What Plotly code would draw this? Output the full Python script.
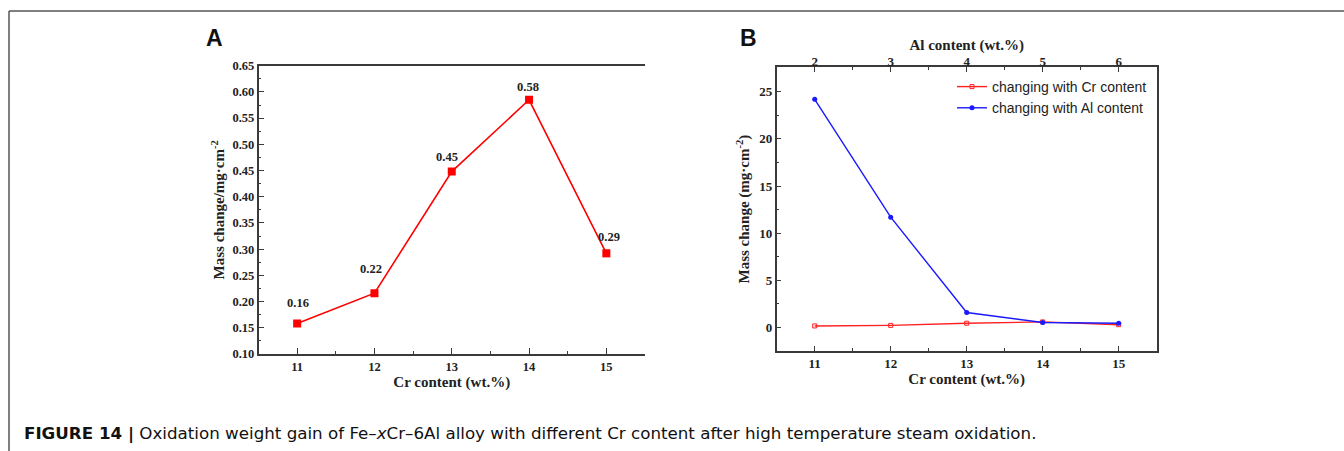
import plotly.graph_objects as go

# ---- data ----
cr_content = [11, 12, 13, 14, 15]
mass_change_cr = [0.158, 0.216, 0.448, 0.585, 0.292]
mass_labels = ["0.16", "0.22", "0.45", "0.58", "0.29"]
al_content = [2, 3, 4, 5, 6]
mass_change_al = [24.2, 11.7, 1.58, 0.52, 0.45]
a_yticks = [0.10, 0.15, 0.20, 0.25, 0.30, 0.35, 0.40, 0.45, 0.50, 0.55, 0.60, 0.65]
b_yticks = [0, 5, 10, 15, 20, 25]

# label offsets (style)
label_dx = [1, -3, -5, -1, 3]
label_dy = [21, 24, 15, 13, 16]

W, H = 1344, 451
def px(x):
    return x / W
def py(y):
    return 1 - y / H

SERIF = "Liberation Serif"
SANS = "Liberation Sans"
AXC = "#3a3a3a"

fig = go.Figure()

# Panel A
fig.add_trace(go.Scatter(
    x=cr_content, y=mass_change_cr, mode="lines+markers",
    line=dict(color="#ff0000", width=1.6),
    marker=dict(symbol="square", size=8, color="#ff0000"),
    xaxis="x", yaxis="y", showlegend=False))

for xv, yv, lab, dx, dy in zip(cr_content, mass_change_cr, mass_labels, label_dx, label_dy):
    fig.add_annotation(x=xv, y=yv, xref="x", yref="y", text="<b>%s</b>" % lab,
                       showarrow=False, xshift=dx, yshift=dy,
                       xanchor="center", yanchor="middle",
                       font=dict(family=SERIF, size=12.5, color="#222"))

# Panel B
fig.add_trace(go.Scatter(
    x=cr_content, y=mass_change_cr, mode="lines+markers",
    name="changing with Cr content",
    line=dict(color="#ff2020", width=1.4),
    marker=dict(symbol="square-open", size=4, color="#ff2020", line=dict(width=1)),
    xaxis="x2", yaxis="y2"))
fig.add_trace(go.Scatter(
    x=al_content, y=mass_change_al, mode="lines+markers",
    name="changing with Al content",
    line=dict(color="#1a1aff", width=1.4),
    marker=dict(symbol="circle", size=5, color="#1a1aff"),
    xaxis="x3", yaxis="y2"))

tickA = dict(family=SERIF, size=12.5, color="#222")
tickB = dict(family=SERIF, size=13, color="#222")
titlefont = dict(family=SERIF, size=15, color="#222")

fig.update_layout(
    width=W, height=H,
    margin=dict(l=0, r=0, t=0, b=0, autoexpand=False),
    paper_bgcolor="white", plot_bgcolor="white",
    xaxis=dict(domain=[px(258.5), px(645)], anchor="y", range=[10.5, 15.5], automargin=False,
               tickvals=cr_content, ticktext=["<b>%d</b>" % v for v in cr_content],
               ticks="inside", ticklen=6, tickwidth=1, tickcolor=AXC,
               minor=dict(ticks="inside", ticklen=3, tickcolor=AXC, dtick=0.5, tick0=10.5),
               showline=True, linecolor=AXC, linewidth=1.5, mirror=True,
               showgrid=False, zeroline=False, tickfont=tickA,
               title=dict(text="<b>Cr content (wt.%)</b>", font=titlefont, standoff=4)),
    yaxis=dict(domain=[py(354), py(65.7)], anchor="x", range=[0.10, 0.65], automargin=False,
               tickvals=a_yticks, ticktext=["<b>%.2f</b>" % v for v in a_yticks],
               ticks="inside", ticklen=6, tickwidth=1, tickcolor=AXC,
               minor=dict(ticks="inside", ticklen=3, tickcolor=AXC, dtick=0.025, tick0=0.1),
               showline=True, linecolor=AXC, linewidth=1.5,
               showgrid=False, zeroline=False, tickfont=tickA,
               title=dict(text="<b>Mass change/mg·cm<sup>-2</sup></b>", font=titlefont, standoff=4)),
    xaxis2=dict(domain=[px(776.7), px(1156.7)], anchor="y2", range=[10.5, 15.5], automargin=False,
                tickvals=cr_content, ticktext=["<b>%d</b>" % v for v in cr_content],
                ticks="inside", ticklen=5, tickwidth=1, tickcolor=AXC,
                minor=dict(ticks="inside", ticklen=3, tickcolor=AXC, dtick=0.5, tick0=10.5),
                showline=True, linecolor=AXC, linewidth=1.5,
                showgrid=False, zeroline=False, tickfont=tickB,
                title=dict(text="<b>Cr content (wt.%)</b>", font=titlefont, standoff=3)),
    xaxis3=dict(domain=[px(776.7), px(1156.7)], anchor="y2", overlaying="x2", side="top",
                range=[1.5, 6.5], automargin=False, ticklabelstandoff=-6,
                tickvals=al_content, ticktext=["<b>%d</b>" % v for v in al_content],
                ticks="inside", ticklen=5, tickwidth=1, tickcolor=AXC,
                minor=dict(ticks="inside", ticklen=3, tickcolor=AXC, dtick=0.5, tick0=1.5),
                showline=True, linecolor=AXC, linewidth=1.5,
                showgrid=False, zeroline=False, tickfont=tickB,
                title=dict(text="<b>Al content (wt.%)</b>", font=titlefont, standoff=0)),
    yaxis2=dict(domain=[py(351), py(67.3)], anchor="x2", range=[-2.5, 27.6], automargin=False,
                tickvals=b_yticks, ticktext=["<b>%d</b>" % v for v in b_yticks],
                ticks="inside", ticklen=5, tickwidth=1, tickcolor=AXC,
                minor=dict(ticks="inside", ticklen=3, tickcolor=AXC, dtick=2.5, tick0=0),
                showline=True, linecolor=AXC, linewidth=1.5, mirror=True,
                showgrid=False, zeroline=False, tickfont=tickB,
                title=dict(text="<b>Mass change (mg·cm<sup>-2</sup>)</b>", font=titlefont, standoff=6)),
    legend=dict(x=px(1152), y=py(71), xanchor="right", yanchor="top",
                bgcolor="rgba(0,0,0,0)", font=dict(family=SANS, size=14, color="#222"),
                tracegroupgap=0, itemwidth=30),
)

# panel letters
fig.add_annotation(x=px(215), y=py(38), xref="paper", yref="paper", text="<b>A</b>",
                   xanchor="center", yanchor="middle",
                   showarrow=False, font=dict(family=SANS, size=23, color="#111"))
fig.add_annotation(x=px(748), y=py(38), xref="paper", yref="paper", text="<b>B</b>",
                   xanchor="center", yanchor="middle",
                   showarrow=False, font=dict(family=SANS, size=23, color="#111"))

# caption
fig.add_annotation(x=px(22), y=py(433), xref="paper", yref="paper",
                   xanchor="left", yanchor="middle",
                   text="<b>FIGURE 14 |</b> Oxidation weight gain of Fe–<i>x</i>Cr–6Al alloy with different Cr content after high temperature steam oxidation.",
                   showarrow=False, font=dict(family="DejaVu Sans", size=16.7, color="#111"))

# frame lines
fig.add_shape(type="line", xref="paper", yref="paper", x0=px(9), x1=1, y0=py(11), y1=py(11),
              line=dict(color="#555", width=1.5))
fig.add_shape(type="line", xref="paper", yref="paper", x0=px(9), x1=px(9), y0=py(11), y1=0,
              line=dict(color="#555", width=1.5))

fig.write_html("out.html")
